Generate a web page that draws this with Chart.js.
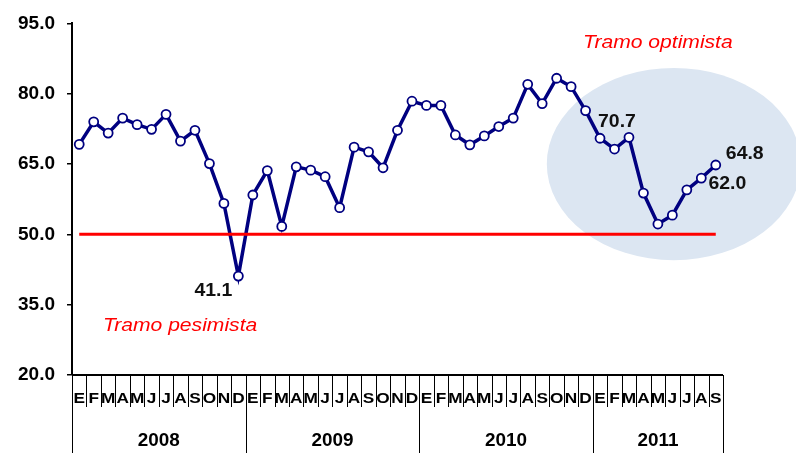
<!DOCTYPE html>
<html>
<head>
<meta charset="utf-8">
<script src="https://cdn.jsdelivr.net/npm/chart.js@4.4.1/dist/chart.umd.min.js"></script>
<style>
  html, body { margin: 0; padding: 0; background: #fff; }
  #wrap { width: 796px; height: 453px; }
</style>
</head>
<body>
<div id="wrap"><canvas id="chart" width="796" height="453"></canvas></div>
<script>
const MONTHS = ['E', 'F', 'M', 'A', 'M', 'J', 'J', 'A', 'S', 'O', 'N', 'D'];
const YEARS = ['2008', '2009', '2010', '2011'];
const YEAR_MONTHS = [12, 12, 12, 9];
const VALUES = [
  69.2, 74.0, 71.6, 74.8, 73.4, 72.4, 75.6, 69.9, 72.2, 65.1, 56.6, 41.1,
  58.4, 63.6, 51.7, 64.4, 63.7, 62.3, 55.7, 68.6, 67.6, 64.2, 72.2, 78.4,
  77.5, 77.5, 71.2, 69.1, 71.0, 73.0, 74.8, 82.0, 77.9, 83.3, 81.5, 76.4,
  70.5, 68.2, 70.7, 58.8, 52.2, 54.1, 59.5, 62.0, 64.8
];
const THRESHOLD = 50;
const Y_TICKS = [20, 35, 50, 65, 80, 95];
const LABELLED = [11, 38, 43, 44];

const FONT = '"Liberation Sans", Arial, sans-serif';

const labels = [];
YEAR_MONTHS.forEach(n => { for (let i = 0; i < n; i++) labels.push(MONTHS[i]); });

// texto estirado en horizontal, como el original
function stretchText(ctx, text, x, y, font, color, sx) {
  ctx.save();
  ctx.font = font;
  ctx.fillStyle = color;
  ctx.textAlign = 'center';
  ctx.textBaseline = 'middle';
  ctx.translate(x, y);
  ctx.scale(sx, 1);
  ctx.fillText(text, 0, 0);
  ctx.restore();
}

const ellipsePlugin = {
  id: 'ellipse',
  beforeDatasetsDraw(chart) {
    const { ctx, scales: { x, y } } = chart;
    const step = x.getPixelForValue(1) - x.getPixelForValue(0);
    const cx = x.getPixelForValue(41.1);
    const cy = y.getPixelForValue(65);
    const rx = step * 8.78;
    const ry = y.getPixelForValue(44.5) - cy;
    ctx.save();
    ctx.fillStyle = '#dce6f2';
    ctx.beginPath();
    ctx.ellipse(cx, cy, rx, ry, 0, 0, Math.PI * 2);
    ctx.fill();
    ctx.restore();
  }
};

const axisPlugin = {
  id: 'multiAxis',
  afterDraw(chart) {
    const { ctx, chartArea: a, scales: { x } } = chart;
    const step = x.getPixelForValue(1) - x.getPixelForValue(0);
    const edge = i => x.getPixelForValue(i) - step / 2;
    const bottom = chart.height;

    ctx.save();
    ctx.strokeStyle = '#000';

    // linea del eje
    ctx.lineWidth = 2;
    ctx.beginPath();
    ctx.moveTo(a.left, a.bottom);
    ctx.lineTo(edge(labels.length), a.bottom);
    ctx.stroke();

    // marcas de meses
    ctx.lineWidth = 1;
    for (let i = 0; i <= labels.length; i++) {
      const px = Math.round(edge(i)) + 0.5;
      ctx.beginPath();
      ctx.moveTo(px, a.bottom);
      ctx.lineTo(px, a.bottom + 32);
      ctx.stroke();
    }
    labels.forEach((m, i) => {
      stretchText(ctx, m, x.getPixelForValue(i), a.bottom + 24, 'bold 15px ' + FONT, '#000', 1.15);
    });

    // separadores y etiquetas de año
    let start = 0;
    YEARS.forEach((yr, k) => {
      const end = start + YEAR_MONTHS[k];
      [start, end].forEach(i => {
        const px = Math.round(edge(i)) + 0.5;
        ctx.beginPath();
        ctx.moveTo(px, a.bottom);
        ctx.lineTo(px, bottom);
        ctx.stroke();
      });
      const mid = (edge(start) + edge(end)) / 2;
      stretchText(ctx, yr, mid, a.bottom + 66, 'bold 18px ' + FONT, '#000', 1.05);
      start = end;
    });
    ctx.restore();
  }
};

const labelPlugin = {
  id: 'valueLabels',
  afterDatasetsDraw(chart) {
    const { ctx, scales: { x, y } } = chart;
    const pts = chart.getDatasetMeta(1).data;
    const offsets = { 11: [-25, 15], 38: [-12, -15], 43: [26, 6], 44: [29, -11] };
    LABELLED.forEach(i => {
      const p = pts[i];
      const [dx, dy] = offsets[i];
      stretchText(ctx, VALUES[i].toFixed(1), p.x + dx, p.y + dy, 'bold 18px ' + FONT, '#111', 1.08);
    });
    stretchText(ctx, 'Tramo optimista', x.getPixelForValue(40.0), y.getPixelForValue(90.8),
      'italic 19px ' + FONT, '#ff0000', 1.11);
    stretchText(ctx, 'Tramo pesimista', x.getPixelForValue(6.97), y.getPixelForValue(30.45),
      'italic 19px ' + FONT, '#ff0000', 1.11);
  }
};

new Chart(document.getElementById('chart'), {
  type: 'line',
  data: {
    labels: labels,
    datasets: [
      {
        label: 'Umbral',
        data: labels.map(() => THRESHOLD),
        borderColor: '#ff0000',
        borderWidth: 3,
        pointRadius: 0,
        tension: 0,
      },
      {
        label: 'Índice',
        data: VALUES,
        borderColor: '#000080',
        borderWidth: 3.5,
        pointRadius: 4.5,
        pointBackgroundColor: '#ffffff',
        pointBorderColor: '#000080',
        pointBorderWidth: 1.8,
        tension: 0,
      }
    ]
  },
  options: {
    responsive: false,
    animation: false,
    devicePixelRatio: 1,
    layout: { padding: { top: 16, right: 73, bottom: 78, left: 0 } },
    plugins: { legend: { display: false }, tooltip: { enabled: false } },
    scales: {
      x: { display: false, offset: true },
      y: {
        min: 20,
        max: 95,
        afterFit: s => { s.width = 72; },
        afterBuildTicks: s => { s.ticks = Y_TICKS.map(v => ({ value: v })); },
        ticks: {
          callback: v => Number(v).toFixed(1),
          color: '#000',
          padding: 12,
          font: { family: FONT, size: 19, weight: 'bold' }
        },
        grid: { drawOnChartArea: false, tickLength: 5, color: '#000', lineWidth: 1.5 },
        border: { color: '#000', width: 2 }
      }
    }
  },
  plugins: [ellipsePlugin, axisPlugin, labelPlugin]
});
</script>
</body>
</html>
